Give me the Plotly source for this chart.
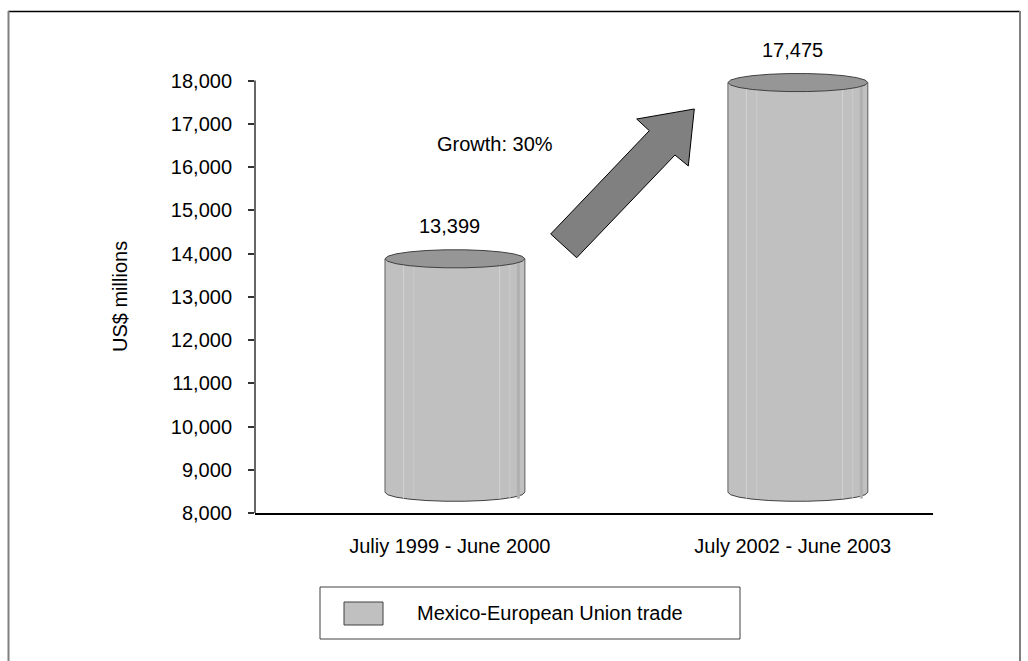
import numpy as np
import plotly.graph_objects as go

# ---------------- data ----------------
categories = ["Juliy 1999 - June 2000", "July 2002 - June 2003"]
trade_values = [13399, 17475]
value_labels = ["13,399", "17,475"]
series_name = "Mexico-European Union trade"
y_tick_values = [8000, 9000, 10000, 11000, 12000, 13000, 14000, 15000, 16000, 17000, 18000]
y_tick_labels = ["8,000", "9,000", "10,000", "11,000", "12,000", "13,000",
                 "14,000", "15,000", "16,000", "17,000", "18,000"]
y_axis_title = "US$ millions"
growth_label = "Growth: 30%"

# ---------------- layout constants ----------------
W, H = 1028, 661
ML, MR, MT, MB = 255, 95, 59, 148
PW, PH = W - ML - MR, H - MT - MB
Y_MIN, Y_AXIS_MAX, Y_RANGE_MAX = 8000, 18000, 18500
X_RANGE = [-0.583, 1.394]
DEPTH = 480          # 3-D depth offset (data units)
HALF_W = 0.204       # cylinder half width (x units)
ELL_RY = 210         # ellipse half height (data units)
LABEL_SHIFT = -0.015
FONT = "Liberation Sans, Arial, sans-serif"
FS = 20

BODY = "#c0c0c0"
TOP = "#969696"
EDGE = "#404040"


def pxx(px):
    return (px - ML) / PW


def pxy(py):
    return (H - MB - py) / PH


def ellipse_path(cx, cy, rx, ry, n=22):
    t = np.linspace(0, 2 * np.pi, n, endpoint=False)
    pts = [(cx + rx * np.cos(a), cy + ry * np.sin(a)) for a in t]
    return "M " + " L ".join(f"{x:.5f},{y:.2f}" for x, y in pts) + " Z"


x_pos = list(range(len(categories)))
fig = go.Figure()

# cylinder bodies as bars
fig.add_trace(go.Bar(
    x=x_pos,
    y=[v - Y_MIN for v in trade_values],
    base=[Y_MIN + DEPTH] * len(trade_values),
    width=2 * HALF_W,
    marker=dict(color=BODY, line=dict(width=0)),
    name=series_name,
    showlegend=False,
    hoverinfo="skip",
))

shapes = []
annotations = []
for i, v in enumerate(trade_values):
    cx = x_pos[i]
    bot = Y_MIN + DEPTH
    top = v + DEPTH
    # bottom ellipse (below trace)
    shapes.append(dict(type="path", xref="x", yref="y", layer="below",
                       path=ellipse_path(cx, bot, HALF_W, ELL_RY),
                       fillcolor=BODY, line=dict(color=EDGE, width=1)))
    # shading streaks
    for off, col, wdt in [(-0.15, "#d2d2d2", 1), (-0.12, "#cccccc", 1),
                          (0.13, "#d2d2d2", 1), (0.16, "#cccccc", 1),
                          (0.185, "#b0b0b0", 3)]:
        shapes.append(dict(type="line", xref="x", yref="y", layer="above",
                           x0=cx + off, x1=cx + off, y0=bot - ELL_RY * 0.7, y1=top,
                           line=dict(color=col, width=wdt)))
    # side edges
    for side in (-1, 1):
        shapes.append(dict(type="line", xref="x", yref="y", layer="above",
                           x0=cx + side * HALF_W, x1=cx + side * HALF_W,
                           y0=bot, y1=top,
                           line=dict(color="#606060", width=1)))
    # top ellipse
    shapes.append(dict(type="path", xref="x", yref="y", layer="above",
                       path=ellipse_path(cx, top, HALF_W, ELL_RY),
                       fillcolor=TOP, line=dict(color=EDGE, width=1)))
    # value label
    annotations.append(dict(x=cx + LABEL_SHIFT, y=top, xref="x", yref="y",
                            text=value_labels[i], showarrow=False, yshift=33,
                            font=dict(family=FONT, size=FS, color="black"),
                            xanchor="center", yanchor="middle"))

# y axis line (only up to 18,000)
shapes.append(dict(type="line", xref="paper", yref="y", layer="above",
                   x0=0, x1=0, y0=Y_MIN, y1=Y_AXIS_MAX,
                   line=dict(color="#333333", width=1.5)))

# growth arrow (decoration)
arrow_px = [(550.7, 234), (649.3, 130.7), (636.7, 119), (694.3, 109),
            (688.3, 166), (675, 155), (576.7, 257.7)]
arrow_path = "M " + " L ".join(f"{pxx(x):.5f},{pxy(y):.5f}" for x, y in arrow_px) + " Z"
shapes.append(dict(type="path", xref="paper", yref="paper", path=arrow_path,
                   fillcolor="#808080", line=dict(color="black", width=1)))
annotations.append(dict(x=pxx(435), y=pxy(144), xref="paper", yref="paper",
                        text=growth_label, showarrow=False, xanchor="left",
                        yanchor="middle", font=dict(family=FONT, size=FS, color="black")))

# y axis title
annotations.append(dict(x=pxx(120), y=pxy(297), xref="paper", yref="paper",
                        text=y_axis_title, textangle=-90, showarrow=False,
                        xanchor="center", yanchor="middle",
                        font=dict(family=FONT, size=FS, color="black")))

# manual legend
shapes.append(dict(type="rect", xref="paper", yref="paper",
                   x0=pxx(320), x1=pxx(740), y0=pxy(639), y1=pxy(587),
                   line=dict(color="#404040", width=1), fillcolor="white"))
shapes.append(dict(type="rect", xref="paper", yref="paper",
                   x0=pxx(344), x1=pxx(383), y0=pxy(625), y1=pxy(602),
                   line=dict(color="#404040", width=1), fillcolor=BODY))
annotations.append(dict(x=pxx(415), y=pxy(613), xref="paper", yref="paper",
                        text=series_name, showarrow=False, xanchor="left",
                        yanchor="middle", font=dict(family=FONT, size=FS, color="black")))

# outer frame
shapes.append(dict(type="line", xref="paper", yref="paper",
                   x0=pxx(8), x1=pxx(1020), y0=pxy(11.5), y1=pxy(11.5),
                   line=dict(color="black", width=1.5)))
for fx in (8.5, 1020):
    shapes.append(dict(type="line", xref="paper", yref="paper",
                       x0=pxx(fx), x1=pxx(fx), y0=pxy(11), y1=pxy(H + 5),
                       line=dict(color="#808080", width=2)))

fig.update_layout(
    width=W, height=H,
    margin=dict(l=ML, r=MR, t=MT, b=MB, autoexpand=False),
    paper_bgcolor="white", plot_bgcolor="white",
    showlegend=False,
    bargap=0,
    shapes=shapes,
    annotations=annotations,
    font=dict(family=FONT, size=FS, color="black"),
    xaxis=dict(range=X_RANGE, tickvals=[p + LABEL_SHIFT for p in x_pos],
               ticktext=categories, showgrid=False, zeroline=False,
               showline=True, linecolor="black", linewidth=1.5,
               ticks="", ticklabelstandoff=14,
               tickfont=dict(family=FONT, size=FS, color="black"), fixedrange=True),
    yaxis=dict(range=[Y_MIN, Y_RANGE_MAX], tickvals=y_tick_values,
               ticktext=y_tick_labels, showgrid=False, zeroline=False,
               showline=False, ticks="outside", ticklen=6, tickwidth=1.5,
               tickcolor="#333333", ticklabelstandoff=12,
               tickfont=dict(family=FONT, size=FS, color="black"), fixedrange=True),
)

fig.write_html("out.html")
